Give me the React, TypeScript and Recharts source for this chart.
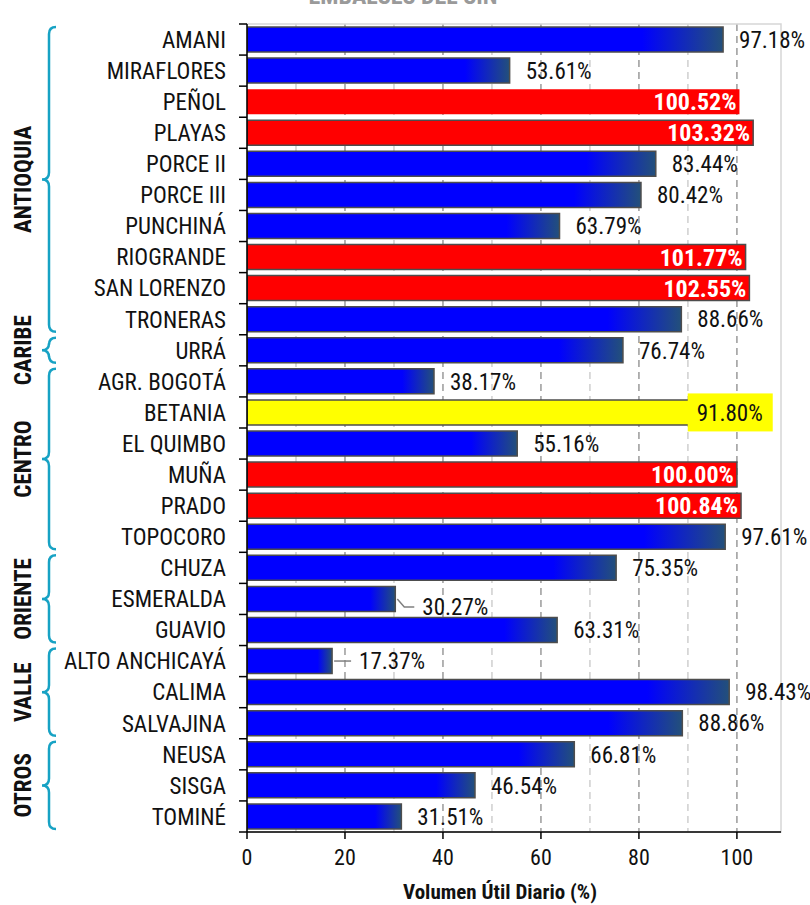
import React from "react"
import { Bar, BarChart, CartesianGrid, Cell, LabelList, ReferenceArea, XAxis, YAxis } from "recharts"

const embalses = [
  "AMANI", "MIRAFLORES", "PEÑOL", "PLAYAS", "PORCE II", "PORCE III", "PUNCHINÁ", "RIOGRANDE", "SAN LORENZO", "TRONERAS",
  "URRÁ",
  "AGR. BOGOTÁ", "BETANIA", "EL QUIMBO", "MUÑA", "PRADO", "TOPOCORO",
  "CHUZA", "ESMERALDA", "GUAVIO",
  "ALTO ANCHICAYÁ", "CALIMA", "SALVAJINA",
  "NEUSA", "SISGA", "TOMINÉ",
]
const volumen = [
  97.18, 53.61, 100.52, 103.32, 83.44, 80.42, 63.79, 101.77, 102.55, 88.66,
  76.74,
  38.17, 91.8, 55.16, 100.0, 100.84, 97.61,
  75.35, 30.27, 63.31,
  17.37, 98.43, 88.86,
  66.81, 46.54, 31.51,
]
const regiones = ["ANTIOQUIA", "CARIBE", "CENTRO", "ORIENTE", "VALLE", "OTROS"]
const embalsesPorRegion = [10, 1, 6, 3, 3, 3]
const xTicks = [0, 20, 40, 60, 80, 100]
const gridMayor = [20, 40, 60, 80, 100]
const gridMenor = [10, 30, 50, 70, 90]
const destacado = "BETANIA"
const sinBorde = ["PEÑOL"]
const conGuia = ["ESMERALDA", "ALTO ANCHICAYÁ"]

const data = embalses.map((name, i) => ({ name, valor: volumen[i] }))

// layout
const W = 810
const H = 905
const TOP = 24
const LEFT = 247
const RIGHT = 781
const BOTTOM = 832
const X_MAX = 109
const ROW = (BOTTOM - TOP) / embalses.length
const FONT = "'Liberation Sans Narrow', 'Arial Narrow', 'Roboto Condensed', 'Liberation Sans', sans-serif"

const pos = (v: number) => LEFT + (v * (RIGHT - LEFT)) / X_MAX

const colorBarra = (name: string, v: number) => {
  if (name === destacado) return "#ffff00"
  if (v >= 100) return "#ff0000"
  return "url(#azul)"
}

const YTick = ({ y, payload, index }: any) => {
  const half = ROW / 2
  return (
    <g>
      <line x1={LEFT - 8} x2={LEFT} y1={y - half} y2={y - half} stroke="#000" strokeWidth={1.5} />
      {index === embalses.length - 1 && (
        <line x1={LEFT - 8} x2={LEFT} y1={y + half} y2={y + half} stroke="#000" strokeWidth={1.5} />
      )}
      <text x={LEFT - 21} y={y} dy="0.36em" textAnchor="end" fontSize={23} fontFamily={FONT} fill="#111">
        {payload.value}
      </text>
    </g>
  )
}

const XTick = ({ x, y, payload }: any) => (
  <text x={x} y={y + 24} textAnchor="middle" fontSize={22} fontFamily={FONT} fill="#111">
    {payload.value}
  </text>
)

const Etiqueta = (props: any) => {
  const { x, y, width, height, value } = props
  const i = props.index ?? volumen.indexOf(value)
  const name = embalses[i]
  const fin = x + width
  const cy = y + height / 2
  const txt = `${Number(value).toFixed(2)}%`

  if (name === destacado) {
    return (
      <g>
        <rect x={fin - 9} y={cy - 19} width={85} height={38} fill="#ffff00" />
        <text x={fin + 33} y={cy} dy="0.36em" textAnchor="middle" fontSize={23} fontFamily={FONT} fill="#111">
          {txt}
        </text>
      </g>
    )
  }
  if (value >= 100) {
    return (
      <text x={fin - 3} y={cy} dy="0.36em" textAnchor="end" fontSize={24} fontWeight="bold" fontFamily={FONT} fill="#fff">
        {txt}
      </text>
    )
  }
  if (conGuia.includes(name)) {
    const baja = name === "ESMERALDA" ? 8 : 0
    return (
      <g>
        <polyline
          points={`${fin + 2},${cy} ${fin + 9},${cy + baja} ${fin + 19},${cy + baja}`}
          fill="none"
          stroke="#808080"
          strokeWidth={1.5}
        />
        <text x={fin + 27} y={cy + baja} dy="0.36em" fontSize={23} fontFamily={FONT} fill="#111">
          {txt}
        </text>
      </g>
    )
  }
  return (
    <text x={fin + 16} y={cy} dy="0.36em" fontSize={23} fontFamily={FONT} fill="#111">
      {txt}
    </text>
  )
}

const gridGen = (valores: number[]) => ({ xAxis }: any) =>
  valores.map((v) => (typeof xAxis?.scale === "function" ? xAxis.scale(v) : pos(v)))

function Llave({ y1, y2 }: { y1: number; y2: number }) {
  const m = (y1 + y2) / 2
  const d = `M56 ${y1} Q49 ${y1} 49 ${y1 + 7} L49 ${m - 7} Q49 ${m} 42 ${m} Q49 ${m} 49 ${m + 7} L49 ${y2 - 7} Q49 ${y2} 56 ${y2}`
  return <path d={d} fill="none" stroke="#17a2c4" strokeWidth={2.5} />
}

function Regiones() {
  let start = 0
  return (
    <svg width={W} height={H} style={{ position: "absolute", left: 0, top: 0, pointerEvents: "none" }}>
      <text x={403} y={4} textAnchor="middle" fontSize={24} fontWeight="bold" fontFamily={FONT} fill="#9a9a9a">
        EMBALSES DEL SIN
      </text>
      {regiones.map((r, k) => {
        const n = embalsesPorRegion[k]
        const y1 = TOP + start * ROW + 3
        const y2 = TOP + (start + n) * ROW - 3
        start += n
        const m = (y1 + y2) / 2
        return (
          <g key={r}>
            <Llave y1={y1} y2={y2} />
            <text
              x={23}
              y={m}
              transform={`rotate(-90 23 ${m})`}
              textAnchor="middle"
              dy="0.36em"
              fontSize={23}
              fontWeight="bold"
              fontFamily={FONT}
              fill="#111"
            >
              {r}
            </text>
          </g>
        )
      })}
    </svg>
  )
}

export default function App() {
  return (
    <div style={{ position: "absolute", left: 0, top: 0, width: W, height: H, background: "#fff" }}>
      <BarChart
        width={W}
        height={H}
        data={data}
        layout="vertical"
        margin={{ top: TOP, right: W - RIGHT, bottom: 0, left: 0 }}
        barCategoryGap={0}
      >
        <defs>
          <linearGradient id="azul" x1="0" y1="0" x2="1" y2="0">
            <stop offset="0" stopColor="#0000ff" />
            <stop offset="0.83" stopColor="#0000ff" />
            <stop offset="1" stopColor="#23507a" />
          </linearGradient>
        </defs>
        <CartesianGrid horizontal={false} stroke="#cfcfcf" strokeWidth={1.5} strokeDasharray="7 5" verticalCoordinatesGenerator={gridGen(gridMenor)} />
        <CartesianGrid horizontal={false} stroke="#9a9a9a" strokeWidth={1.5} strokeDasharray="7 5" verticalCoordinatesGenerator={gridGen(gridMayor)} />
        <ReferenceArea x1={0} x2={X_MAX} fill="none" stroke="#d6d6d6" strokeWidth={1.5} />
        <XAxis
          type="number"
          domain={[0, X_MAX]}
          ticks={xTicks}
          allowDataOverflow
          height={H - BOTTOM}
          axisLine={{ stroke: "#000", strokeWidth: 1.5 }}
          tickLine={{ stroke: "#000", strokeWidth: 1.5 }}
          tickSize={7}
          tick={<XTick />}
          label={{
            value: "Volumen Útil Diario (%)",
            position: "insideBottom",
            offset: 6,
            dx: -14,
            style: { fontSize: 21, fontWeight: "bold", fontFamily: FONT, fill: "#111" },
          }}
        />
        <YAxis
          type="category"
          dataKey="name"
          width={LEFT}
          interval={0}
          axisLine={{ stroke: "#000", strokeWidth: 1.5 }}
          tickLine={false}
          tick={<YTick />}
        />
        <Bar dataKey="valor" barSize={25} isAnimationActive={false}>
          {data.map((d) => (
            <Cell
              key={d.name}
              fill={colorBarra(d.name, d.valor)}
              stroke={sinBorde.includes(d.name) ? "none" : "#4d4d4d"}
              strokeWidth={1.5}
            />
          ))}
          <LabelList dataKey="valor" content={<Etiqueta />} />
        </Bar>
      </BarChart>
      <Regiones />
    </div>
  )
}
